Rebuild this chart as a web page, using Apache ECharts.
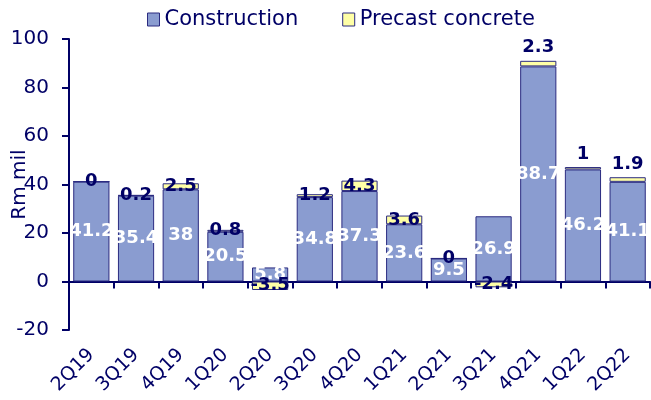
<!DOCTYPE html>
<html><head><meta charset="utf-8">
<script src="https://cdn.jsdelivr.net/npm/echarts@6/dist/echarts.min.js"></script>
<style>html,body{margin:0;padding:0;background:#fff}#c{width:651px;height:400px}</style>
</head><body><div id="c"></div>
<script>
const categories = ['2Q19','3Q19','4Q19','1Q20','2Q20','3Q20','4Q20','1Q21','2Q21','3Q21','4Q21','1Q22','2Q22'];
const construction = [41.2,35.4,38,20.5,5.8,34.8,37.3,23.6,9.5,26.9,88.7,46.2,41.1];
const precast = [0,0.2,2.5,0.8,-3.5,1.2,4.3,3.6,0,-2.4,2.3,1,1.9];
const yTicks = [-20,0,20,40,60,80,100];
const labelAbove = ['4Q21','1Q22','2Q22'];

const navy = '#000066';
const font = 'DejaVu Sans';
const chart = echarts.init(document.getElementById('c'));
chart.setOption({
  animation: false,
  textStyle: {fontFamily: font},
  legend: {
    top: 4, left: 142, itemGap: 44, itemWidth: 12, itemHeight: 13, icon: 'rect',
    textStyle: {fontSize: 21, color: navy, fontFamily: font},
    itemStyle: {borderColor: '#2b2b80', borderWidth: 1},
    data: ['Construction','Precast concrete']
  },
  grid: {left: 69, right: 1, top: 39, bottom: 70, containLabel: false, outerBoundsMode: 'none'},
  xAxis: [{
    type: 'category', data: categories,
    axisLine: {onZero: true, lineStyle: {color: navy, width: 2}},
    axisTick: {show: true, length: 7, lineStyle: {color: navy, width: 2}},
    axisLabel: {show: false}
  }, {
    type: 'category', data: categories, position: 'bottom',
    axisLine: {show: false}, axisTick: {show: false},
    axisLabel: {rotate: 45, fontSize: 19, color: navy, margin: 22, fontFamily: font}
  }],
  yAxis: {
    type: 'value', min: yTicks[0], max: yTicks[yTicks.length-1], interval: 20,
    name: 'Rm mil', nameLocation: 'middle', nameGap: 39, nameMoveOverlap: false,
    nameTextStyle: {fontSize: 20, color: navy, fontFamily: font},
    axisLine: {show: true, lineStyle: {color: navy, width: 2}},
    axisTick: {show: true, length: 7, lineStyle: {color: navy, width: 2}},
    axisLabel: {fontSize: 20, color: navy, margin: 20, fontFamily: font},
    splitLine: {show: false}
  },
  series: [{
    name: 'Construction', type: 'bar', stack: 's', xAxisIndex: 0,
    barCategoryGap: '19%',
    data: construction,
    itemStyle: {color: '#8a9cd0', borderColor: '#2b2b80', borderWidth: 1},
    label: {show: true, position: 'inside', color: '#ffffff', fontWeight: 'bold', fontSize: 18, fontFamily: font}
  }, {
    name: 'Precast concrete', type: 'bar', stack: 's', xAxisIndex: 0,
    data: precast.map((v, i) => labelAbove.includes(categories[i])
      ? {value: v, label: {position: 'top', distance: 4}} : v),
    itemStyle: {color: '#ffffa6', borderColor: '#2b2b80', borderWidth: 1},
    label: {show: true, position: 'inside', color: navy, fontWeight: 'bold', fontSize: 18, fontFamily: font}
  }]
});
</script></body></html>
